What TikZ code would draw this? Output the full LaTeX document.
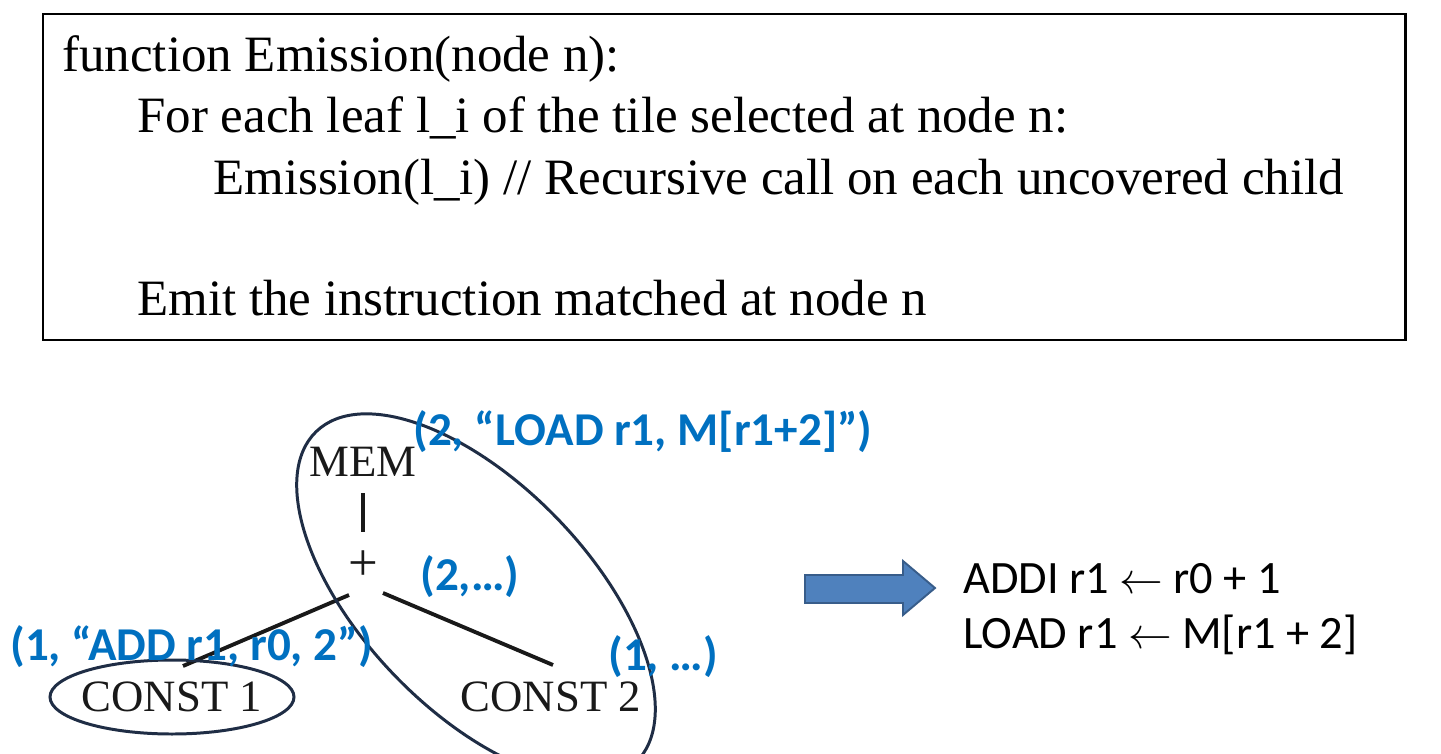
\documentclass[tikz,border=0pt]{standalone}
\usepackage{fontspec}
\setmainfont{Liberation Serif}
\newfontfamily\calibri{Carlito}
\usetikzlibrary{calc}
\definecolor{tileblue}{HTML}{0070C0}
\definecolor{ringnavy}{HTML}{1F2D45}
\definecolor{arrowfill}{HTML}{4F81BD}
\definecolor{arrowline}{HTML}{385D8A}
\begin{document}
\begin{tikzpicture}[x=0.02cm, y=0.02cm]
    \tikzstyle{every node}+=[inner sep=0pt]
    \tikzstyle{codeline}=[anchor=base west, font=\fontsize{29}{35}\selectfont]
    \tikzstyle{treenode}=[font=\fontsize{25.5}{30}\selectfont, text=black!90]
    \tikzstyle{cost}=[anchor=base west, text=tileblue, font=\calibri\bfseries\fontsize{26.8}{31}\selectfont]
    \tikzstyle{asm}=[anchor=base west, font=\calibri\fontsize{26.4}{31}\selectfont]
    \tikzstyle{treeedge}=[line width=2.2pt, black!90]
    \tikzstyle{ring}=[line width=1.7pt, ringnavy]
    \useasboundingbox (0,0) rectangle (1441,-754);
    % pseudo code box
    \draw [line width=1.7pt] (43,-14) rectangle (1405,-340);
    \node [codeline] (l1) at (62,-71) {function Emission(node n):};
    \node [codeline] (l2) at (137,-132) {For each leaf l\_i of the tile selected at node n:};
    \node [codeline] (l3) at (213,-194) {Emission(l\_i) // Recursive call on each uncovered child};
    \node [codeline] (l4) at (137,-315) {Emit the instruction matched at node n};
    % tree
    \node [treenode] (mem) at (363,-462) {MEM};
    \node [treenode, font=\fontsize{30}{30}\selectfont] (plus) at (363,-566) {+};
    \node [treenode] (c1) at (172,-697) {CONST 1};
    \node [treenode] (c2) at (551,-697) {CONST 2};
    \coordinate (memfoot) at (363,-493);
    \coordinate (plustop) at (363,-532);
    \coordinate (plusleft) at (349,-595);
    \coordinate (plusright) at (383,-593);
    \coordinate (c1top) at (183,-666);
    \coordinate (c2top) at (553,-665);
    \draw [treeedge] (memfoot) -- (plustop);
    \draw [treeedge] (plusleft) -- (c1top);
    \draw [treeedge] (plusright) -- (c2top);
    % tiles
    \draw [ring] (c1) ellipse [x radius=122, y radius=37];
    \draw [ring, rotate around={-46:(476,-597)}] (476,-597) ellipse [x radius=230, y radius=113];
    % costs
    \node [cost] (k1) at (413,-445) {(2, “LOAD r1, M[r1+2]”)};
    \node [cost] (k2) at (420,-590) {(2,…)};
    \node [cost] (k3) at (10,-660) {(1, “ADD r1, r0, 2”)};
    \node [cost] (k4) at (608,-670) {(1, …)};
    % emitted code
    \draw [fill=arrowfill, draw=arrowline, line width=1.1pt]
        (805,-575) -- (903,-575) -- (903,-561) -- (935,-588) -- (903,-615)
        -- (903,-603) -- (805,-603) -- cycle;
    \node [asm] (a1) at (963,-593) {ADDI r1 $\leftarrow$ r0 + 1};
    \node [asm] (a2) at (963,-648) {LOAD r1 $\leftarrow$ M[r1 + 2]};
\end{tikzpicture}
\end{document}
